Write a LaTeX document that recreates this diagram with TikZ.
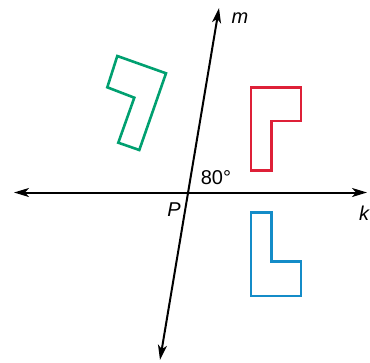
\documentclass[tikz,border=0pt]{standalone}
\usepackage{fontspec}
\setmainfont{Liberation Sans}
\usetikzlibrary{arrows.meta}
\definecolor{shgreen}{RGB}{0,160,112}
\definecolor{shred}{RGB}{222,32,56}
\definecolor{shblue}{RGB}{20,140,200}
\tikzset{
  axis/.style={line width=2pt, {Stealth[length=15pt,width=9pt,inset=4pt]}-{Stealth[length=15pt,width=9pt,inset=4pt]}},
  figline/.style={line width=2.6pt, line join=miter},
  lbl/.style={inner sep=0pt, font=\fontsize{20}{24}\selectfont}
}
\begin{document}
\begin{tikzpicture}[x=1pt,y=-1pt]
\useasboundingbox (0,0) rectangle (370,362);
\clip (0,0) rectangle (370,362);
% lines
\coordinate (kL) at (14,192.5);
\coordinate (kR) at (367,192.5);
\coordinate (mT) at (219,8);
\coordinate (mB) at (160,360);
\draw[axis] (kL) -- (kR);
\draw[axis] (mB) -- (mT);
% labels
\node[lbl] (m) at (240,18) {\itshape m};
\node[lbl] (ang) at (216,177.5) {80°};
\node[lbl] (P) at (174,210) {\itshape P};
\node[lbl] (k) at (364,213) {\itshape k};
% green shape
\draw[figline, shgreen] (117.3,56) -- (166,73.3) -- (139.3,150) -- (118.3,142.7) -- (134.3,97.7) -- (107.3,87.3) -- cycle;
% red shape
\draw[figline, shred] (251,87.3) -- (301,87.3) -- (301,121) -- (271.7,121) -- (271.7,170.7) -- (251,170.7) -- cycle;
% blue shape
\draw[figline, shblue] (251,212.7) -- (271.7,212.7) -- (271.7,261.7) -- (301,261.7) -- (301,296) -- (251,296) -- cycle;
\end{tikzpicture}
\end{document}
